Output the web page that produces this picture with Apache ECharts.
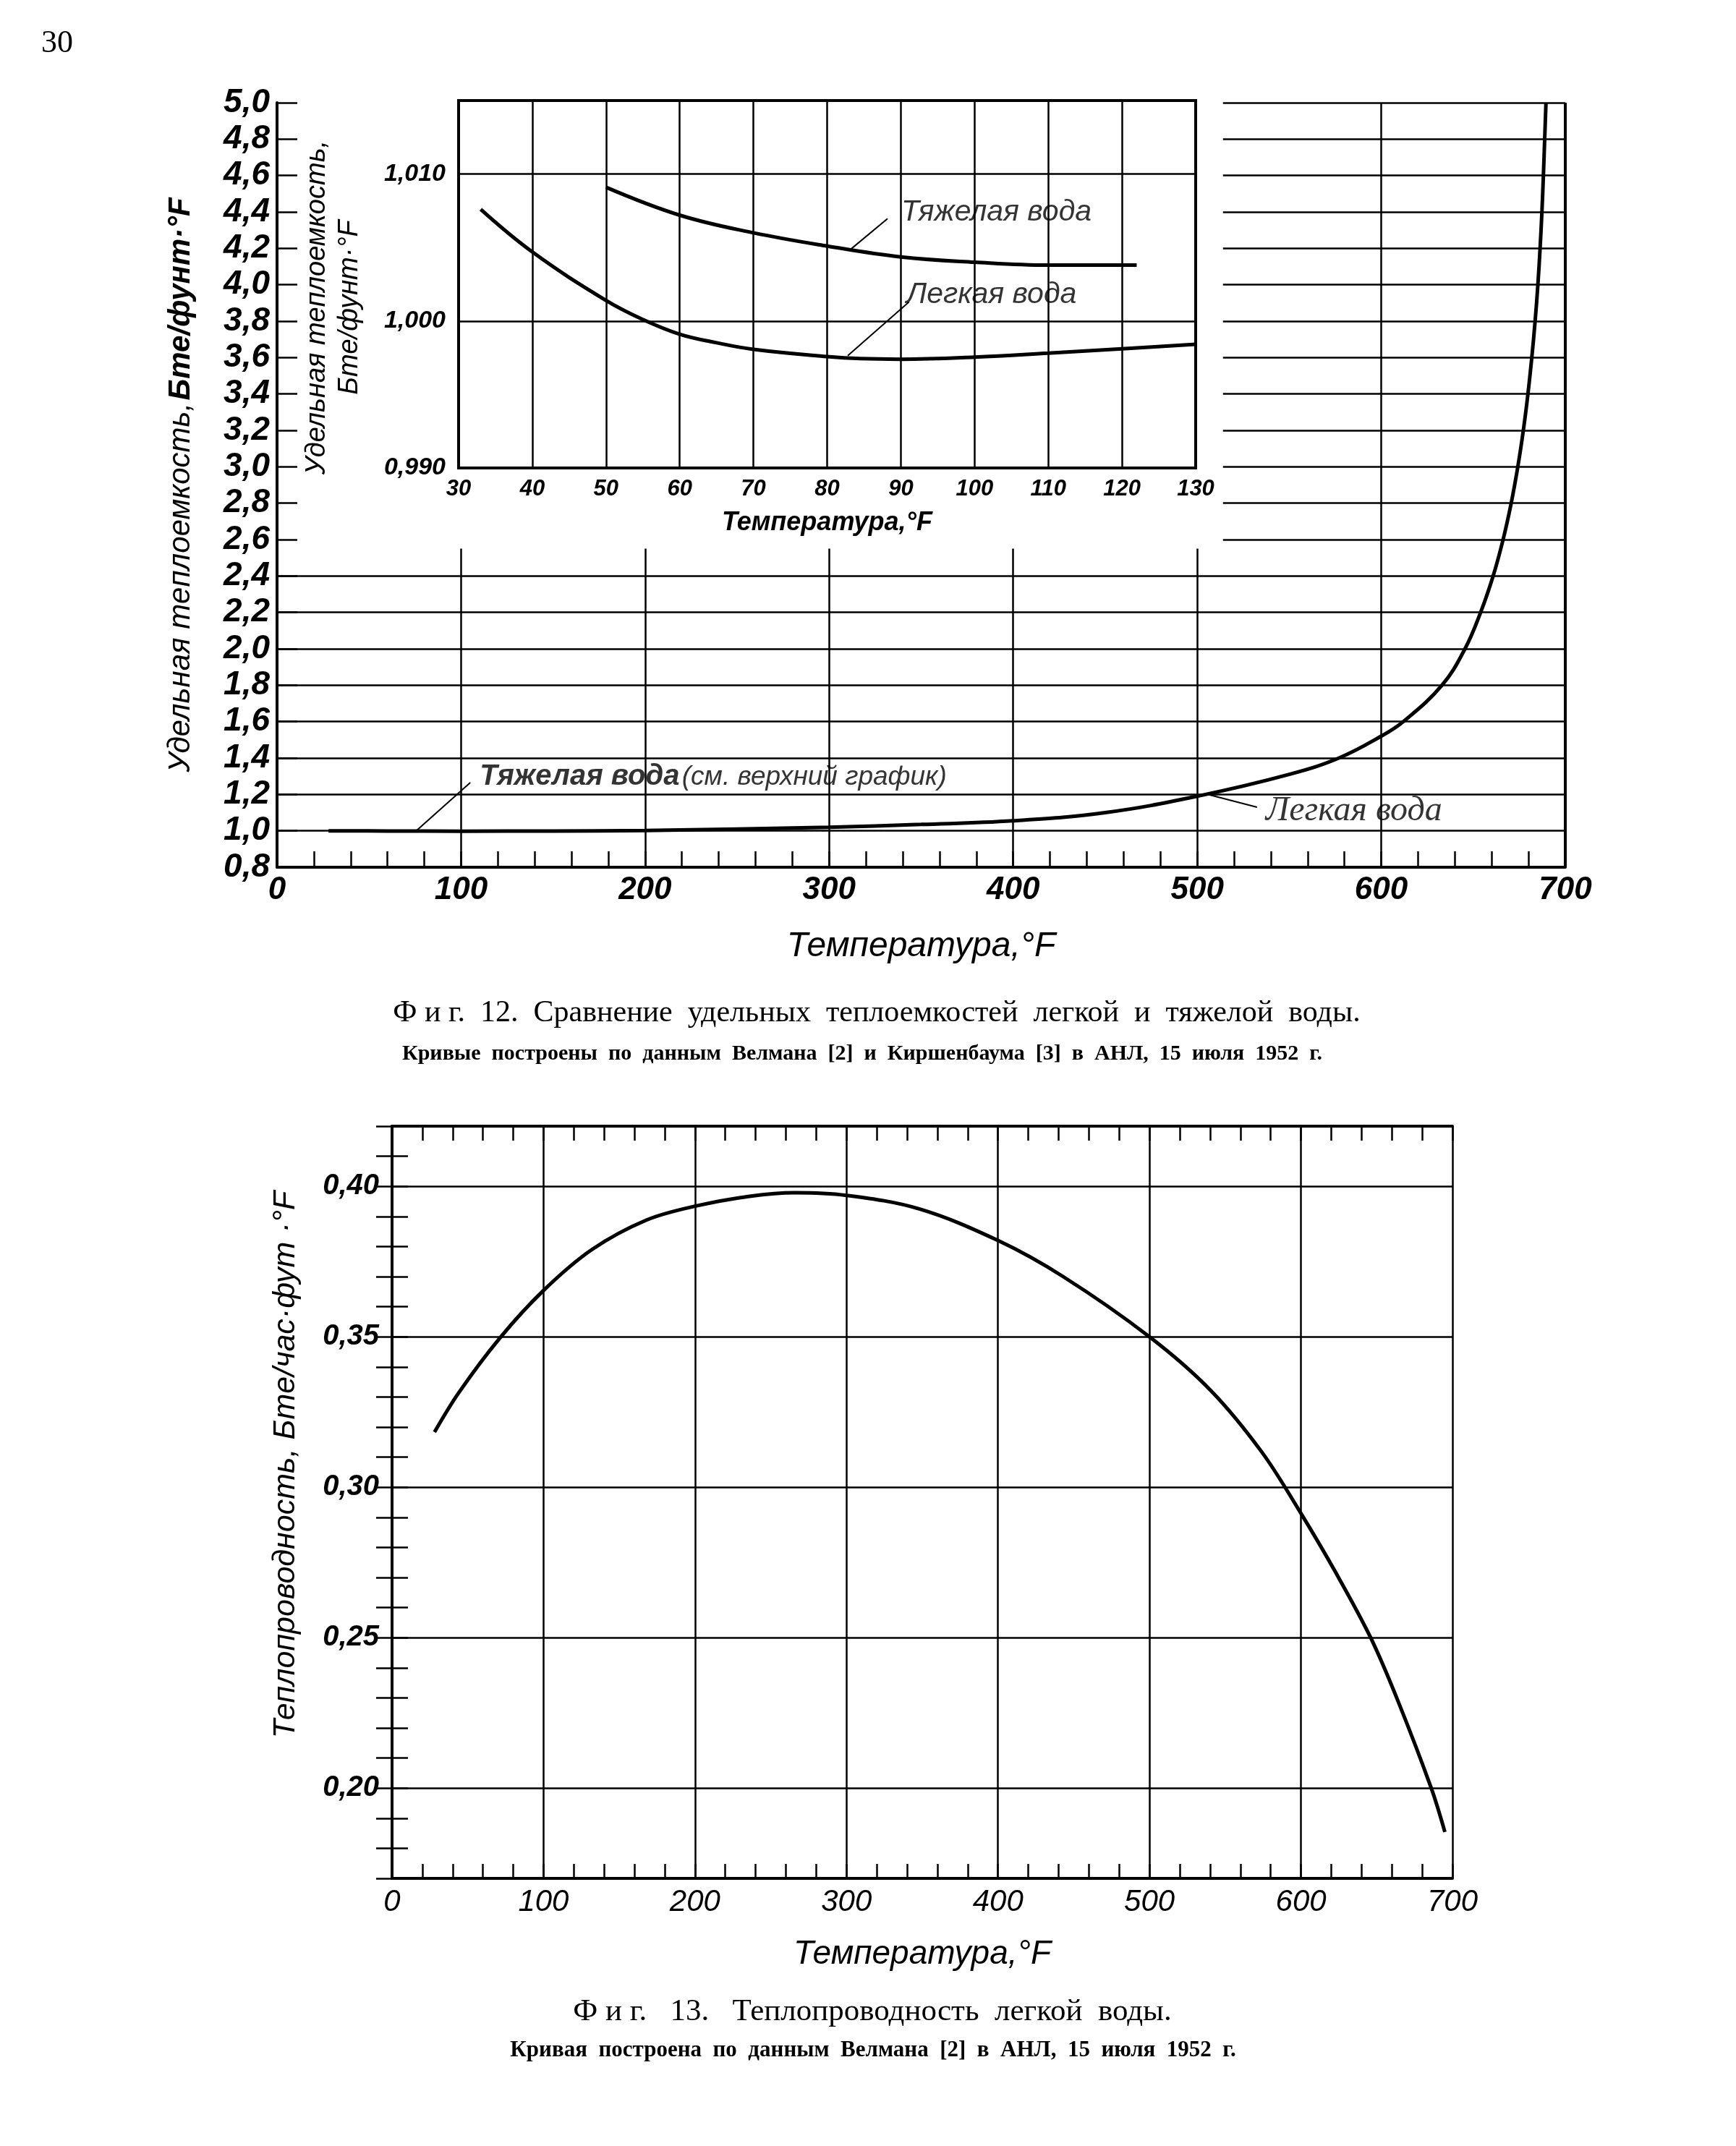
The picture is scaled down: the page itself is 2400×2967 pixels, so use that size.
<!DOCTYPE html>
<html><head><meta charset="utf-8">
<script src="https://cdn.jsdelivr.net/npm/echarts@6/dist/echarts.min.js"></script>
<style>html,body{margin:0;padding:0;background:#fff}#c{width:2400px;height:2967px}</style>
</head><body><div id="c"></div>
<script>
// ---------- DATA ----------
// Fig.12 main chart: specific heat of light water vs temperature
const mainTempF = [28, 60, 100, 150, 200, 250, 300, 350, 400, 450, 500, 550, 577, 600, 612, 633, 645.5, 654, 660.8, 666.2, 670.6, 674.2, 677.2, 679.7, 681.8, 683.6, 685.1, 686.3, 687.3, 688.1, 688.8, 689.5];
const mainLightCp = [1.0, 0.999, 0.998, 0.999, 1.002, 1.01, 1.02, 1.035, 1.055, 1.10, 1.19, 1.31, 1.40, 1.52, 1.60, 1.80, 2.0, 2.2, 2.4, 2.6, 2.8, 3.0, 3.2, 3.4, 3.6, 3.8, 4.0, 4.2, 4.4, 4.6, 4.8, 5.0];
// Fig.12 inset: heavy and light water, 30–130 °F
const insetHeavyT = [50, 60, 70, 80, 90, 100, 110, 122];
const insetHeavyCp = [1.0091, 1.0072, 1.0060, 1.0051, 1.00436, 1.0040, 1.0038, 1.0038];
const insetLightT = [33, 40, 50, 55, 60, 65, 70, 80, 84.5, 90, 100, 110, 120, 130];
const insetLightCp = [1.0076, 1.0047, 1.0014, 1.0001, 0.9991, 0.99852, 0.99807, 0.99758, 0.99744, 0.9974, 0.99754, 0.99781, 0.99811, 0.99842];
// Fig.13: thermal conductivity of light water
const condT = [28, 44, 71, 100, 132, 168, 200, 236, 266, 300, 348, 400, 443, 500, 540, 574, 600, 623, 646, 664, 686, 695];
const condK = [0.3183, 0.3314, 0.3495, 0.3654, 0.3790, 0.3888, 0.3934, 0.3967, 0.3979, 0.3970, 0.3925, 0.3820, 0.3700, 0.3500, 0.3324, 0.3118, 0.2913, 0.2716, 0.2500, 0.2290, 0.2000, 0.1854];

// grid structure of the main chart
const mainFullGridY = [1.0, 1.2, 1.4, 1.6, 1.8, 2.0, 2.2, 2.4];
const mainRightGridY = [2.6, 2.8, 3.0, 3.2, 3.4, 3.6, 3.8, 4.0, 4.2, 4.4, 4.6, 4.8, 5.0];
const mainRightGridStart = 514;
const mainShortVGridX = [100, 200, 300, 400, 500];
const mainShortVGridTop = 2.55;
const mainTallVGridX = [600];
const condGridY = [0.20, 0.25, 0.30, 0.35, 0.40];

// annotations (data coords)
const mainHeavyLeader = [[75.6, 1.0], [105, 1.265]];
const mainHeavyLabelAt = [110, 1.295];
const mainLightLeader = [[506, 1.199], [532.5, 1.13]];
const mainLightLabelAt = [537, 1.107];
const insetHeavyLeader = [[83.2, 1.00488], [88.2, 1.00697]];
const insetHeavyLabelAt = [90, 1.0074];
const insetLightLeader = [[82.8, 0.99764], [91.1, 1.00129]];
const insetLightLabelAt = [90.7, 1.0018];

// ---------- CHART ----------
const SANS = '"Liberation Sans", Arial, sans-serif';
const SERIF = '"Liberation Serif", "Times New Roman", serif';
const chart = echarts.init(document.getElementById('c'), null, {width: 2400, height: 2967});
const pair = (a, b) => [{coord: a}, {coord: b}];
const zip = (xs, ys) => xs.map((x, i) => [x, ys[i]]);
const mlBase = (w) => ({silent: true, symbol: ['none', 'none'], label: {show: false}, emphasis: {disabled: true}, animation: false, lineStyle: {color: '#000', width: w, type: 'solid'}});
const numComma = (v, d) => v.toFixed(d).replace('.', ',');

const mainGridLines = [].concat(
  mainFullGridY.map(v => pair([0, v], [700, v])),
  mainRightGridY.map(v => pair([mainRightGridStart, v], [700, v])),
  mainShortVGridX.map(x => pair([x, 0.8], [x, mainShortVGridTop])),
  mainTallVGridX.map(x => pair([x, 0.8], [x, 5.0]))
);

const annoLabel = (pos, text, rich, xi, yi) => ({
  type: 'scatter', xAxisIndex: xi, yAxisIndex: yi, symbolSize: 1, silent: true,
  itemStyle: {color: 'rgba(0,0,0,0)'}, data: [pos], z: 5,
  label: {show: true, position: 'right', distance: 0, formatter: text, rich: rich, color: '#000'}
});

const option = {
  animation: false,
  backgroundColor: '#fff',
  grid: [
    {left: 383, top: 142, width: 1781, height: 1057},
    {left: 634, top: 139, width: 1019, height: 508, show: true, borderColor: '#000', borderWidth: 4, backgroundColor: 'transparent'},
    {left: 542, top: 1557, width: 1466, height: 1040}
  ],
  xAxis: [
    {gridIndex: 0, type: 'value', min: 0, max: 700, interval: 100,
     axisLine: {lineStyle: {color: '#000', width: 4}},
     axisTick: {show: true, inside: true, length: 22, lineStyle: {color: '#000', width: 2.5}},
     minorTick: {show: true, splitNumber: 5, length: 22, lineStyle: {color: '#000', width: 2.5}},
     splitLine: {show: false},
     axisLabel: {color: '#000', fontFamily: SANS, fontStyle: 'italic', fontWeight: 'bold', fontSize: 44, margin: 10},
     name: 'Температура,°F', nameLocation: 'middle', nameGap: 86,
     nameTextStyle: {color: '#000', fontFamily: SANS, fontStyle: 'italic', fontSize: 48}},
    {gridIndex: 1, type: 'value', min: 30, max: 130, interval: 10,
     axisLine: {show: false}, axisTick: {show: false},
     splitLine: {show: true, lineStyle: {color: '#000', width: 2.5}},
     axisLabel: {color: '#000', fontFamily: SANS, fontStyle: 'italic', fontWeight: 'bold', fontSize: 31, margin: 14},
     name: 'Температура,°F', nameLocation: 'middle', nameGap: 58,
     nameTextStyle: {color: '#000', fontFamily: SANS, fontStyle: 'italic', fontWeight: 'bold', fontSize: 36}},
    {gridIndex: 2, type: 'value', min: 0, max: 700, interval: 100,
     axisLine: {lineStyle: {color: '#000', width: 4}},
     axisTick: {show: true, inside: true, length: 20, lineStyle: {color: '#000', width: 2.5}},
     minorTick: {show: true, splitNumber: 5, length: 20, lineStyle: {color: '#000', width: 2.5}},
     splitLine: {show: true, lineStyle: {color: '#000', width: 2.5}},
     axisLabel: {color: '#000', fontFamily: SANS, fontStyle: 'italic', fontSize: 42, margin: 12},
     name: 'Температура,°F', nameLocation: 'middle', nameGap: 82,
     nameTextStyle: {color: '#000', fontFamily: SANS, fontStyle: 'italic', fontSize: 46}},
    {gridIndex: 2, type: 'value', position: 'top', min: 0, max: 700, interval: 100,
     axisLine: {lineStyle: {color: '#000', width: 4}},
     axisTick: {show: true, inside: true, length: 20, lineStyle: {color: '#000', width: 2.5}},
     minorTick: {show: true, splitNumber: 5, length: 20, lineStyle: {color: '#000', width: 2.5}},
     splitLine: {show: false}, axisLabel: {show: false}}
  ],
  yAxis: [
    {gridIndex: 0, type: 'value', min: 0.8, max: 5.0, interval: 0.2,
     axisLine: {show: true, lineStyle: {color: '#000', width: 4}},
     axisTick: {show: true, inside: true, length: 28, lineStyle: {color: '#000', width: 2.5}},
     splitLine: {show: false},
     axisLabel: {color: '#000', fontFamily: SANS, fontStyle: 'italic', fontWeight: 'bold', fontSize: 46, margin: 10,
                 formatter: v => numComma(v, 1)},
     name: '{a|Удельная теплоемкость,} {b|Бте/фунт·°F}', nameLocation: 'middle', nameRotate: 90, nameGap: 112,
     nameTextStyle: {color: '#000', rich: {
       a: {fontFamily: SANS, fontStyle: 'italic', fontSize: 42, color: '#000'},
       b: {fontFamily: SANS, fontStyle: 'italic', fontWeight: 'bold', fontSize: 42, color: '#000'}}}},
    {gridIndex: 1, type: 'value', min: 0.99, max: 1.015, interval: 0.01,
     axisLine: {show: false}, axisTick: {show: false},
     splitLine: {show: true, lineStyle: {color: '#000', width: 2.5}},
     axisLabel: {color: '#000', fontFamily: SANS, fontStyle: 'italic', fontWeight: 'bold', fontSize: 34, margin: 18,
                 showMaxLabel: false, formatter: v => numComma(v, 3)},
     name: 'Удельная теплоемкость,\nБте/фунт·°F', nameLocation: 'middle', nameRotate: 90, nameGap: 128,
     nameTextStyle: {color: '#000', fontFamily: SANS, fontStyle: 'italic', fontSize: 38, lineHeight: 45, padding: [0, 64, 0, 0]}},
    {gridIndex: 2, type: 'value', min: 0.17, max: 0.42, interval: 0.01,
     axisLine: {show: true, lineStyle: {color: '#000', width: 4}},
     axisTick: {show: true, inside: true, length: 22, lineStyle: {color: '#000', width: 2.5}},
     splitLine: {show: false},
     axisLabel: {color: '#000', fontFamily: SANS, fontStyle: 'italic', fontWeight: 'bold', fontSize: 40, margin: 18,
                 formatter: v => { const k = Math.round(v * 100); return (k % 5 === 0) ? numComma(k / 100, 2) : ''; }},
     name: 'Теплопроводность, Бте/час·фут ·°F', nameLocation: 'middle', nameRotate: 90, nameGap: 125,
     nameTextStyle: {color: '#000', fontFamily: SANS, fontStyle: 'italic', fontSize: 43, padding: [0, 0, 0, 104]}},
    {gridIndex: 2, type: 'value', position: 'right', min: 0.17, max: 0.42, interval: 0.01,
     axisLine: {show: true, lineStyle: {color: '#000', width: 4}},
     axisTick: {show: true, inside: true, length: 22, lineStyle: {color: '#000', width: 2.5}},
     splitLine: {show: false}, axisLabel: {show: false}}
  ],
  series: [
    // main chart gridlines
    {type: 'line', xAxisIndex: 0, yAxisIndex: 0, data: [], z: 1, markLine: Object.assign(mlBase(2.5), {data: mainGridLines})},
    {type: 'line', xAxisIndex: 0, yAxisIndex: 0, data: [], z: 1, markLine: Object.assign(mlBase(4), {data: [pair([700, 0.8], [700, 5.0])]})},
    // main curve
    {type: 'line', name: 'Легкая вода', xAxisIndex: 0, yAxisIndex: 0, data: zip(mainTempF, mainLightCp),
     smooth: 0.4, showSymbol: false, z: 3, lineStyle: {color: '#000', width: 5}},
    {type: 'line', xAxisIndex: 0, yAxisIndex: 0, data: [], z: 4,
     markLine: Object.assign(mlBase(2), {data: [pair(mainHeavyLeader[0], mainHeavyLeader[1]), pair(mainLightLeader[0], mainLightLeader[1])]})},
    annoLabel(mainHeavyLabelAt, '{a|Тяжелая вода} {b|(см. верхний график)}', {
      a: {fontFamily: SANS, fontStyle: 'italic', fontWeight: 'bold', fontSize: 40, color: '#000'},
      b: {fontFamily: SANS, fontStyle: 'italic', fontSize: 37, color: '#000'}}, 0, 0),
    annoLabel(mainLightLabelAt, '{a|Легкая вода}', {a: {fontFamily: SERIF, fontStyle: 'italic', fontSize: 48, color: '#000'}}, 0, 0),
    // inset curves
    {type: 'line', name: 'Тяжелая вода', xAxisIndex: 1, yAxisIndex: 1, data: zip(insetHeavyT, insetHeavyCp),
     smooth: 0.4, showSymbol: false, z: 3, lineStyle: {color: '#000', width: 5}},
    {type: 'line', name: 'Легкая вода (вставка)', xAxisIndex: 1, yAxisIndex: 1, data: zip(insetLightT, insetLightCp),
     smooth: 0.4, showSymbol: false, z: 3, lineStyle: {color: '#000', width: 5}},
    {type: 'line', xAxisIndex: 1, yAxisIndex: 1, data: [], z: 4,
     markLine: Object.assign(mlBase(2), {data: [pair(insetHeavyLeader[0], insetHeavyLeader[1]), pair(insetLightLeader[0], insetLightLeader[1])]})},
    annoLabel(insetHeavyLabelAt, '{a|Тяжелая вода}', {a: {fontFamily: SANS, fontStyle: 'italic', fontSize: 41, color: '#000'}}, 1, 1),
    annoLabel(insetLightLabelAt, '{a|Легкая вода}', {a: {fontFamily: SANS, fontStyle: 'italic', fontSize: 41, color: '#000'}}, 1, 1),
    // Fig.13
    {type: 'line', xAxisIndex: 2, yAxisIndex: 2, data: [], z: 1,
     markLine: Object.assign(mlBase(2.5), {data: condGridY.map(v => ({yAxis: v}))})},
    {type: 'line', name: 'Теплопроводность', xAxisIndex: 2, yAxisIndex: 2, data: zip(condT, condK),
     smooth: 0.35, showSymbol: false, z: 3, lineStyle: {color: '#000', width: 5}}
  ],
  graphic: [
    {type: 'text', x: 79, y: 60, style: {text: '30', font: '44px ' + SERIF, fill: '#000', align: 'center', verticalAlign: 'middle', textAlign: 'center', textVerticalAlign: 'middle'}},
    {type: 'text', x: 1212, y: 1401, style: {text: 'Ф и г.  12.  Сравнение  удельных  теплоемкостей  легкой  и  тяжелой  воды.', font: '42px ' + SERIF, fill: '#000', align: 'center', verticalAlign: 'middle', textAlign: 'center', textVerticalAlign: 'middle'}},
    {type: 'text', x: 1192, y: 1457, style: {text: 'Кривые  построены  по  данным  Велмана  [2]  и  Киршенбаума  [3]  в  АНЛ,  15  июля  1952  г.', font: 'bold 30px ' + SERIF, fill: '#000', align: 'center', verticalAlign: 'middle', textAlign: 'center', textVerticalAlign: 'middle'}},
    {type: 'text', x: 1206, y: 2782, style: {text: 'Ф и г.   13.   Теплопроводность  легкой  воды.', font: '43px ' + SERIF, fill: '#000', align: 'center', verticalAlign: 'middle', textAlign: 'center', textVerticalAlign: 'middle'}},
    {type: 'text', x: 1207, y: 2835, style: {text: 'Кривая  построена  по  данным  Велмана  [2]  в  АНЛ,  15  июля  1952  г.', font: 'bold 31px ' + SERIF, fill: '#000', align: 'center', verticalAlign: 'middle', textAlign: 'center', textVerticalAlign: 'middle'}}
  ]
};
chart.setOption(option);
</script>
</body></html>
